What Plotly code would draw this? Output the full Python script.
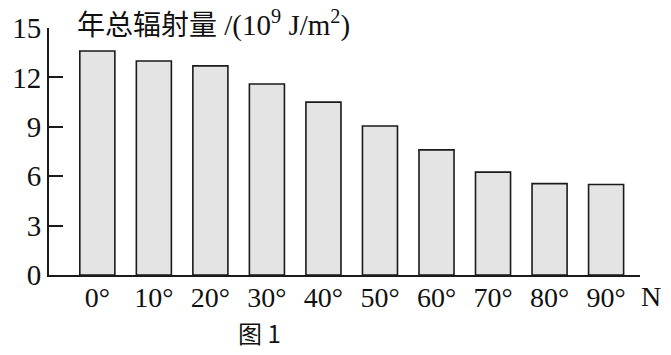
import plotly.graph_objects as go

categories = ["0°", "10°", "20°", "30°", "40°", "50°", "60°", "70°", "80°", "90°"]
radiation = [13.6, 13.0, 12.7, 11.6, 10.5, 9.05, 7.6, 6.25, 5.55, 5.5]
y_ticks = [0, 3, 6, 9, 12, 15]

serif = "Liberation Serif, Times New Roman, serif"
cjk = "Noto Sans CJK SC, sans-serif"

fig = go.Figure(go.Bar(
    x=categories, y=radiation, width=0.62,
    marker=dict(color="#e4e4e4", line=dict(color="#1a1a1a", width=1.6)),
))

fig.update_layout(
    width=671, height=355,
    margin=dict(l=47, r=31, t=25, b=80),
    paper_bgcolor="white", plot_bgcolor="white",
    showlegend=False,
    xaxis=dict(type="category", range=[-0.855, 9.6], showline=True, linecolor="#1a1a1a",
               linewidth=2, ticks="", showgrid=False, zeroline=False,
               tickfont=dict(family=serif, size=28, color="#111"), ticklabelstandoff=-4),
    yaxis=dict(range=[0, 15], tickvals=y_ticks, showline=True, linecolor="#1a1a1a",
               linewidth=2, ticks="inside", ticklen=14, tickwidth=2, tickcolor="#1a1a1a",
               showgrid=False, zeroline=False,
               tickfont=dict(family=serif, size=29, color="#111"), ticklabelstandoff=0),
    annotations=[
        dict(text="<span style='font-family:Noto Sans CJK SC;font-size:28px'>年总辐射量</span> /(10<sup>9</sup> J/m<sup>2</sup>)",
             xref="paper", yref="paper", x=(73 - 47) / 593, y=1.0 + 5 / 250,
             xanchor="left", yanchor="middle", showarrow=False,
             font=dict(family=serif, size=29, color="#111")),
        dict(text="N", xref="paper", yref="paper", x=(651 - 47) / 593, y=-22 / 250,
             xanchor="center", yanchor="middle", showarrow=False,
             font=dict(family=serif, size=28, color="#111")),
        dict(text="图 1", xref="paper", yref="paper", x=(258 - 47) / 593, y=-58 / 250,
             xanchor="center", yanchor="middle", showarrow=False,
             font=dict(family=cjk, size=24, color="#111")),
    ],
)

fig.write_html("out.html")
